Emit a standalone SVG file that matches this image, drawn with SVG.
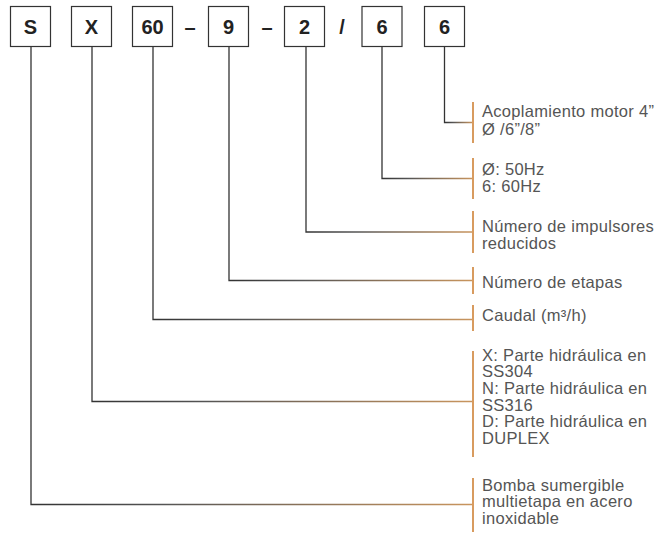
<svg xmlns="http://www.w3.org/2000/svg" width="655" height="534" viewBox="0 0 655 534">
<defs>
<linearGradient id="g" x1="0" y1="0" x2="1" y2="0">
<stop offset="0" stop-color="#333"/>
<stop offset="0.3" stop-color="#555"/>
<stop offset="1" stop-color="#c9955e"/>
</linearGradient>
<style>
.box rect{fill:#fff;stroke:#333;stroke-width:1.2}
.box text,.sep{font-family:"Liberation Sans",Arial,sans-serif;font-weight:bold;font-size:20px;fill:#222;text-anchor:middle}
.conn path{fill:none;stroke:url(#g);stroke-width:1.3}
.bar{stroke:#d89b5f;stroke-width:2}
.lbl text{font-family:"Liberation Sans",Arial,sans-serif;font-size:16.5px;fill:#555;letter-spacing:0.3px}
</style>
</defs>
<rect width="655" height="534" fill="#fff"/>
<g id="code">
<g id="box-S" class="box"><rect x="10.5" y="6.5" width="40" height="40"/><text x="30.5" y="34">S</text></g>
<g id="box-X" class="box"><rect x="71.5" y="6.5" width="40" height="40"/><text x="91.5" y="34">X</text></g>
<g id="box-60" class="box"><rect x="132.5" y="6.5" width="40" height="40"/><text x="152.5" y="34">60</text></g>
<text class="sep" x="190" y="33.5">–</text>
<g id="box-9" class="box"><rect x="208.5" y="6.5" width="40" height="40"/><text x="228.5" y="34">9</text></g>
<text class="sep" x="267" y="33.5">–</text>
<g id="box-2" class="box"><rect x="284.5" y="6.5" width="40" height="40"/><text x="304.5" y="34">2</text></g>
<text class="sep" x="342" y="34">/</text>
<g id="box-6a" class="box"><rect x="362" y="6.5" width="40" height="40"/><text x="382" y="34">6</text></g>
<g id="box-6b" class="box"><rect x="424.5" y="6.5" width="40" height="40"/><text x="444.5" y="34">6</text></g>
</g>
<g id="connectors" class="conn">
<path d="M444.5,46.5 V122.5 H473"/>
<path d="M382,46.5 V178.5 H473"/>
<path d="M306,46.5 V232 H473"/>
<path d="M229,46.5 V280.5 H473"/>
<path d="M153,46.5 V319.5 H473"/>
<path d="M92,46.5 V401.5 H473"/>
<path d="M31,46.5 V504.5 H473"/>
</g>
<g id="lbl-acoplamiento" class="lbl"><line class="bar" x1="473" y1="102" x2="473" y2="143"/><text x="482" y="117">Acoplamiento motor 4”</text><text x="482" y="135">Ø /6”/8”</text></g>
<g id="lbl-hz" class="lbl"><line class="bar" x1="473" y1="158" x2="473" y2="199"/><text x="482" y="174.5">Ø: 50Hz</text><text x="482" y="192">6: 60Hz</text></g>
<g id="lbl-impulsores" class="lbl"><line class="bar" x1="473" y1="211" x2="473" y2="253"/><text x="482" y="231.5">Número de impulsores</text><text x="482" y="248.5">reducidos</text></g>
<g id="lbl-etapas" class="lbl"><line class="bar" x1="473" y1="267" x2="473" y2="294"/><text x="482" y="287.5">Número de etapas</text></g>
<g id="lbl-caudal" class="lbl"><line class="bar" x1="473" y1="305" x2="473" y2="331"/><text x="482" y="320.5">Caudal (m³/h)</text></g>
<g id="lbl-hidraulica" class="lbl"><line class="bar" x1="473" y1="351" x2="473" y2="457"/><text x="482" y="360.5">X: Parte hidráulica en</text><text x="482" y="377.2">SS304</text><text x="482" y="394">N: Parte hidráulica en</text><text x="482" y="410.7">SS316</text><text x="482" y="427.4">D: Parte hidráulica en</text><text x="482" y="444">DUPLEX</text></g>
<g id="lbl-bomba" class="lbl"><line class="bar" x1="473" y1="478" x2="473" y2="532"/><text x="482" y="490.7">Bomba sumergible</text><text x="482" y="507.4">multietapa en acero</text><text x="482" y="524">inoxidable</text></g>
</svg>
